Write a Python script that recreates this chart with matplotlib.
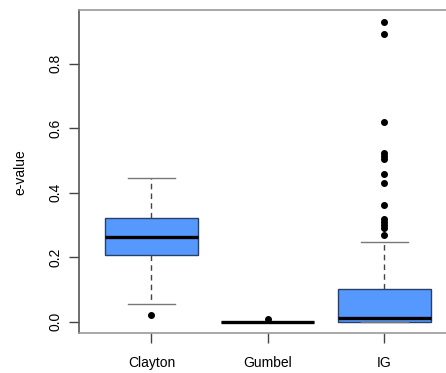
import matplotlib
matplotlib.use("Agg")
import matplotlib.pyplot as plt

# data
groups = ["Clayton", "Gumbel", "IG"]
whislo = [0.054, 0.0, 0.0]
q1 = [0.206, 0.0, 0.0]
med = [0.262, 0.0, 0.0105]
q3 = [0.322, 0.0, 0.100]
whishi = [0.445, 0.0, 0.246]
fliers = [
    [0.020],
    [0.008],
    [0.928, 0.891, 0.618, 0.522, 0.515, 0.505, 0.458, 0.431, 0.361,
     0.319, 0.310, 0.300, 0.289, 0.269],
]
yticks = [0.0, 0.2, 0.4, 0.6, 0.8]

plt.rcParams["font.family"] = ["Liberation Sans", "DejaVu Sans"]

fig = plt.figure(figsize=(4.46, 3.73), dpi=100)
ax = fig.add_axes([79.3 / 446, 39.7 / 373, 366.7 / 446, 323.3 / 373])

stats = []
for i in range(len(groups)):
    stats.append(dict(label=groups[i], whislo=whislo[i], q1=q1[i], med=med[i],
                      q3=q3[i], whishi=whishi[i], fliers=fliers[i]))

ax.bxp(stats, positions=[1, 2, 3], widths=0.8, patch_artist=True,
       showfliers=True,
       boxprops=dict(facecolor="#5599ff", edgecolor="#2a3f66", linewidth=1),
       medianprops=dict(color="black", linewidth=2.4, solid_capstyle="butt"),
       whiskerprops=dict(color="#444444", linewidth=1, linestyle=(0, (4, 3))),
       capprops=dict(color="#777777", linewidth=1),
       capwidths=0.4,
       flierprops=dict(marker="o", markerfacecolor="black",
                       markeredgecolor="black", markersize=4))

ax.set_xlim(0.38, 3.53)
ax.set_ylim(-0.036, 0.966)

ax.set_yticks(yticks)
ax.set_yticklabels([f"{v:.1f}" for v in yticks], rotation=90, va="center")
ax.set_xticks([1, 2, 3])
ax.set_xticklabels(groups)
ax.tick_params(axis="both", labelsize=10, length=7, color="#444444", width=1)
ax.tick_params(axis="y", pad=5)
ax.tick_params(axis="x", pad=9)
ax.set_ylabel("e-value", fontsize=10, labelpad=15)

for side in ["top", "bottom", "left", "right"]:
    ax.spines[side].set_color("#999999")
    ax.spines[side].set_linewidth(1.2)
ax.spines["left"].set_color("#555555")
ax.spines["right"].set_visible(False)

fig.savefig("out.png", dpi=100)
